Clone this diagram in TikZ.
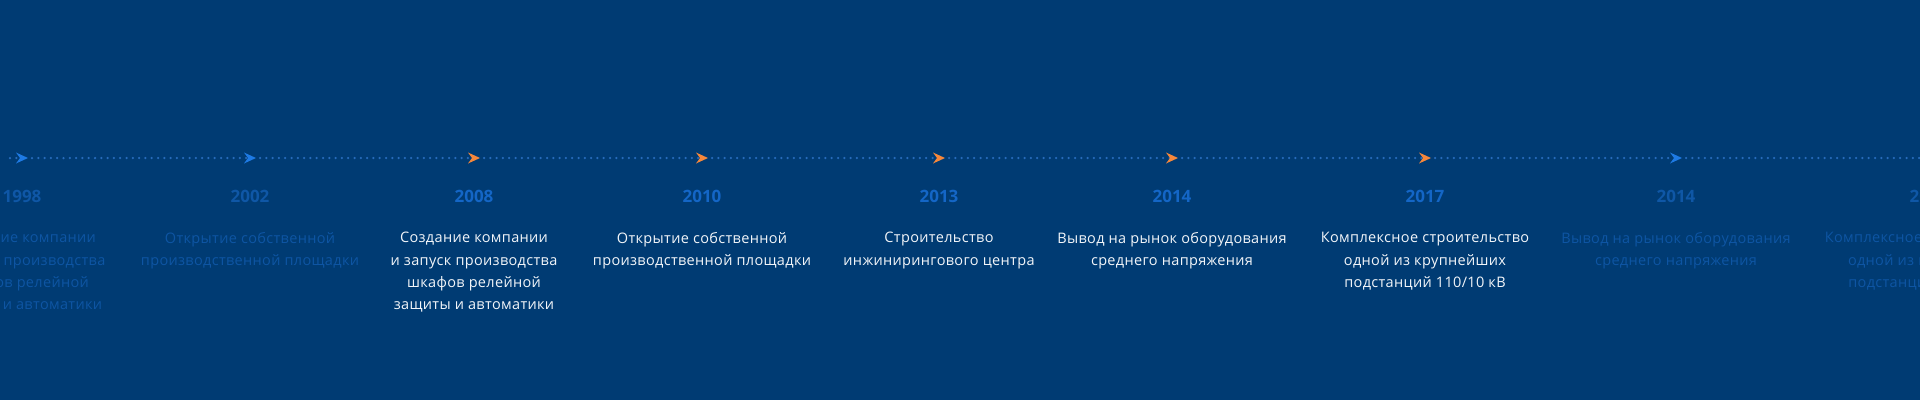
\documentclass[tikz,border=0pt]{standalone}
\usepackage{fontspec}
\setmainfont{Open Sans}
\usepackage{tikz}
\usetikzlibrary{arrows.meta,positioning}
\definecolor{cBg}{HTML}{003B73}
\definecolor{cDot}{HTML}{276BBB}
\definecolor{cYear}{HTML}{1466C6}
\definecolor{cYearDim}{HTML}{0F57A6}
\definecolor{cText}{HTML}{F2F5F9}
\definecolor{cTextDim}{HTML}{0E55A3}
\definecolor{cOn}{HTML}{F5873B}
\definecolor{cOff}{HTML}{1E7AE4}
\tikzset{
  yearon/.style={inner sep=0pt, outer sep=0pt, text=cYear,
                 font=\fontsize{17}{20}\selectfont\bfseries},
  yearoff/.style={yearon, text=cYearDim},
  texton/.style={inner sep=0pt, outer sep=0pt, align=center, text=cText,
                 font=\fontsize{14.5}{22.2}\selectfont\addfontfeature{LetterSpace=2.3}},
  textoff/.style={texton, text=cTextDim},
  dotline/.style={cDot, line width=2.5pt, line cap=round,
                  dash pattern=on 0pt off 6.3pt, shorten <=10pt, shorten >=-6pt},
  arron/.style={-{Stealth[length=12pt, width=11pt, inset=4pt, line width=0pt, color=cOn]}},
  arroff/.style={-{Stealth[length=12pt, width=11pt, inset=4pt, line width=0pt, color=cOff]}}
}

\begin{document}
\begin{tikzpicture}[x=1pt, y=1pt]
\fill[cBg] (0,0) rectangle (1920,400);
\clip (0,0) rectangle (1920,400);
% time line
\coordinate (lft) at (0,242);
\coordinate (m98) at (22,242);
\coordinate (m02) at (250,242);
\coordinate (m08) at (474,242);
\coordinate (m10) at (702,242);
\coordinate (m13) at (939,242);
\coordinate (m14) at (1172,242);
\coordinate (m17) at (1425,242);
\coordinate (m14b) at (1676,242);
\coordinate (m17b) at (1929,242);
\draw[dotline, arroff] (lft) -- (m98);
\draw[dotline, arroff] (m98) -- (m02);
\draw[dotline, arron] (m02) -- (m08);
\draw[dotline, arron] (m08) -- (m10);
\draw[dotline, arron] (m10) -- (m13);
\draw[dotline, arron] (m13) -- (m14);
\draw[dotline, arron] (m14) -- (m17);
\draw[dotline, arroff] (m17) -- (m14b);
\draw[dotline, arroff] (m14b) -- (m17b);
% years and events
\node[yearoff, below=32pt of m98] (y98) {1998};
\node[textoff, below=30pt of y98] (t98) {Создание компании\\и запуск производства\\шкафов релейной\\защиты и автоматики};
\node[yearoff, below=32pt of m02] (y02) {2002};
\node[textoff, below=30pt of y02] (t02) {Открытие собственной\\производственной площадки};
\node[yearon, below=32pt of m08] (y08) {2008};
\node[texton, below=30pt of y08] (t08) {Создание компании\\и запуск производства\\шкафов релейной\\защиты и автоматики};
\node[yearon, below=32pt of m10] (y10) {2010};
\node[texton, below=30pt of y10] (t10) {Открытие собственной\\производственной площадки};
\node[yearon, below=32pt of m13] (y13) {2013};
\node[texton, below=30pt of y13] (t13) {Строительство\\инжинирингового центра};
\node[yearon, below=32pt of m14] (y14) {2014};
\node[texton, below=30pt of y14] (t14) {Вывод на рынок оборудования\\среднего напряжения};
\node[yearon, below=32pt of m17] (y17) {2017};
\node[texton, below=30pt of y17] (t17) {Комплексное строительство\\одной из крупнейших\\подстанций 110/10 кВ};
\node[yearoff, below=32pt of m14b] (y14b) {2014};
\node[textoff, below=30pt of y14b] (t14b) {Вывод на рынок оборудования\\среднего напряжения};
\node[yearoff, below=32pt of m17b] (y17b) {2017};
\node[textoff, below=30pt of y17b] (t17b) {Комплексное строительство\\одной из крупнейших\\подстанций 110/10 кВ};
\end{tikzpicture}
\end{document}
